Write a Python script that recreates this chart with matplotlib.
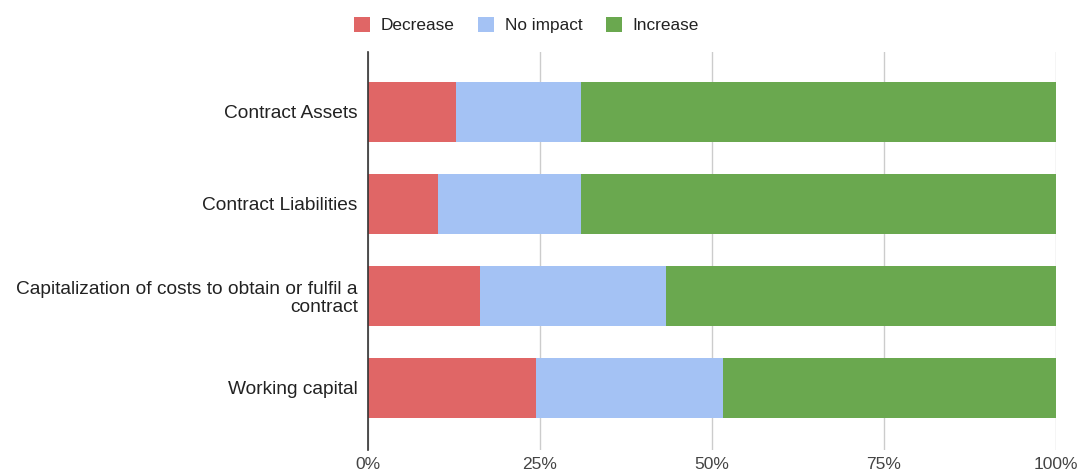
import matplotlib
matplotlib.use('Agg')
import matplotlib.pyplot as plt
import numpy as np
from matplotlib.ticker import FuncFormatter

plt.rcParams['font.family'] = ['Liberation Sans', 'DejaVu Sans']

# data (shares of respondents, %)
categories = ['Contract Assets',
              'Contract Liabilities',
              'Capitalization of costs to obtain or fulfil a\ncontract',
              'Working capital']
decrease = [12.9, 10.3, 16.3, 24.4]
no_impact = [18.1, 20.7, 27.0, 27.2]
increase = [69.0, 69.0, 56.7, 48.4]

series = [('Decrease', decrease, '#e06666'),
          ('No impact', no_impact, '#a4c2f4'),
          ('Increase', increase, '#6aa84f')]

fig = plt.figure(figsize=(10.81, 4.72), dpi=100)
ax = fig.add_axes([0.34, 0.047, 0.637, 0.843])

y = np.arange(len(categories))
left = np.zeros(len(categories))
for name, vals, col in series:
    ax.barh(y, vals, left=left, height=0.65, color=col, label=name, zorder=3)
    left += np.array(vals)

ax.set_ylim(len(categories) - 1 + 0.674, -0.652)
ax.set_xlim(0, 100)
ax.set_yticks(y)
ax.set_yticklabels(categories, fontsize=13.8, color='#222222', linespacing=1.12)
ax.set_xticks([0, 25, 50, 75, 100])
ax.xaxis.set_major_formatter(FuncFormatter(lambda v, p: '%d%%' % v))
ax.tick_params(axis='x', length=0, labelsize=12.5, colors='#444444', pad=5)
ax.tick_params(axis='y', length=0, pad=7)
ax.grid(axis='x', color='#cccccc', linewidth=1, zorder=0)

for s in ['top', 'right', 'bottom']:
    ax.spines[s].set_visible(False)
ax.spines['left'].set_color('#333333')
ax.spines['left'].set_linewidth(1.2)
ax.spines['left'].set_zorder(4)

fig.legend(loc='center', bbox_to_anchor=(0.487, 1 - 25 / 472), ncol=3, frameon=False,
           fontsize=12.4, handlelength=0.93, handleheight=0.93, columnspacing=1.34,
           handletextpad=0.64, labelcolor='#222222', borderpad=0)

plt.savefig('out.png', dpi=100)
